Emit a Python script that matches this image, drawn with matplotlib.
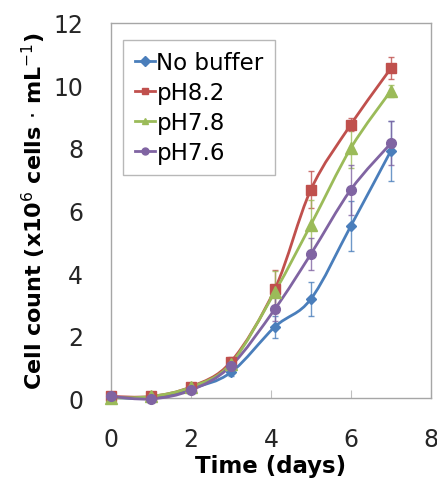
import matplotlib
matplotlib.use("Agg")
import matplotlib.pyplot as plt
import numpy as np
from matplotlib.path import Path
from matplotlib.patches import PathPatch

# data
days = [0, 1, 2, 3, 4.1, 5, 6, 7]

no_buffer = [0.02, 0.0, 0.3, 0.82, 2.28, 3.17, 5.51, 7.91]
no_buffer_err = [0.05, 0.05, 0.05, 0.1, 0.35, 0.53, 0.8, 0.96]

ph82 = [0.05, 0.05, 0.36, 1.16, 3.49, 6.67, 8.75, 10.55]
ph82_err = [0.05, 0.05, 0.05, 0.15, 0.6, 0.6, 0.2, 0.35]

ph78 = [0.0, 0.05, 0.35, 1.1, 3.4, 5.55, 8.0, 9.83]
ph78_err = [0.05, 0.05, 0.05, 0.15, 0.68, 0.8, 0.65, 0.2]

ph76 = [0.05, -0.03, 0.25, 1.03, 2.85, 4.61, 6.67, 8.15]
ph76_err = [0.05, 0.05, 0.05, 0.1, 0.4, 0.5, 0.8, 0.7]

series = [
    ("No buffer", no_buffer, no_buffer_err, '#4A7EBB', 'D', 5),
    ("pH8.2", ph82, ph82_err, '#C0504D', 's', 7),
    ("pH7.8", ph78, ph78_err, '#9BBB59', '^', 8),
    ("pH7.6", ph76, ph76_err, '#8064A2', 'o', 7),
]


def smooth_path(x, y):
    # Excel-like smoothed line: cubic bezier segments through the points
    pts = np.column_stack([x, y]).astype(float)
    verts = [pts[0]]
    codes = [Path.MOVETO]
    n = len(pts)
    for i in range(n - 1):
        p0 = pts[i - 1] if i > 0 else pts[i]
        p1 = pts[i]
        p2 = pts[i + 1]
        p3 = pts[i + 2] if i + 2 < n else pts[i + 1]
        c1 = p1 + (p2 - p0) / 6.0
        c2 = p2 - (p3 - p1) / 6.0
        verts += [c1, c2, p2]
        codes += [Path.CURVE4] * 3
    return Path(verts, codes)


fig = plt.figure(figsize=(4.37, 4.89), dpi=100)
ax = fig.add_axes([0.254, 0.184, 0.732, 0.767])

for name, vals, err, col, mk, ms in series:
    ax.errorbar(days, vals, yerr=err, fmt='none', ecolor=col, elinewidth=1,
                capsize=2, capthick=1, alpha=0.8, clip_on=False, zorder=2)
    ax.add_patch(PathPatch(smooth_path(days, vals), fill=False, edgecolor=col,
                           lw=2, zorder=3, clip_on=False))
    ax.plot(days, vals, linestyle='none', marker=mk, markersize=ms, color=col,
            zorder=4, clip_on=False)
    ax.plot([], [], '-', marker=mk, color=col, lw=2, markersize=5, label=name)

ax.set_xlim(0, 8)
ax.set_ylim(0, 12)
ax.set_xticks([0, 2, 4, 6, 8])
ax.set_yticks([0, 2, 4, 6, 8, 10, 12])

for s in ax.spines.values():
    s.set_color('#A6A6A6')
    s.set_linewidth(1)

ax.tick_params(axis='x', direction='in', length=6, color='#BFBFBF',
               labelsize=17, pad=21, top=False)
ax.tick_params(axis='y', length=0, labelsize=17, pad=20)
for t in ax.get_xticklabels() + ax.get_yticklabels():
    t.set_color('#262626')

ax.set_xlabel('Time (days)', fontsize=16.5, fontweight='bold', labelpad=2)
ax.set_ylabel(r'Cell count (x10$^{6}$ cells $\cdot$ mL$^{-1}$)', fontsize=16,
              fontweight='bold', labelpad=4)

leg = ax.legend(loc='upper left', bbox_to_anchor=(0.038, 0.955), fontsize=16.5,
                frameon=True, fancybox=False, handlelength=0.9,
                handletextpad=0.05, labelspacing=0.3, borderpad=0.5,
                borderaxespad=0)
leg.get_frame().set_edgecolor('#A6A6A6')
leg.get_frame().set_linewidth(1)

plt.savefig('out.png', dpi=100)
